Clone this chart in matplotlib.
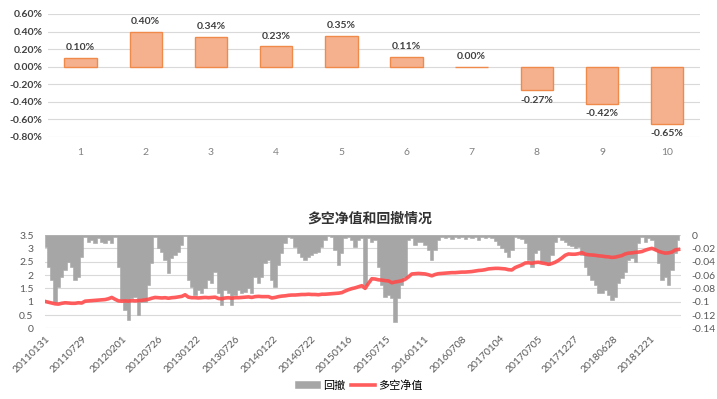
import matplotlib
matplotlib.use("Agg")
import matplotlib.pyplot as plt
import pandas as pd
from matplotlib.ticker import FuncFormatter

plt.rcParams['font.family'] = ['Lato', 'Noto Sans CJK SC', 'DejaVu Sans']

# ---- top chart: group returns ----
groups = ['1', '2', '3', '4', '5', '6', '7', '8', '9', '10']
group_ret = [0.10, 0.40, 0.34, 0.23, 0.35, 0.11, 0.00, -0.27, -0.42, -0.65]  # percent

# ---- bottom chart: long-short NAV and drawdown ----
start_date = '2011-02-01'
end_date = '2019-05-05'

drawdown = [
    -0.0175, -0.0475, -0.0675, -0.100, -0.0775, -0.0625, -0.0525, -0.040, -0.0475, -0.0675,
    -0.0625, -0.0325, -0.0025, -0.010, -0.0075, -0.0125, -0.005, -0.010, -0.0125, -0.0075,
    -0.0115, -0.0025, -0.0475, -0.0975, -0.1125, -0.1275, -0.095, -0.0925, -0.120, -0.100,
    -0.100, -0.075, -0.0425, -0.0025, -0.020, -0.025, -0.0375, -0.0575, -0.035, -0.030,
    -0.025, -0.015, -0.0015, -0.0675, -0.0775, -0.090, -0.0825, -0.0875, -0.080, -0.0675,
    -0.0725, -0.055, -0.0875, -0.105, -0.0825, -0.0875, -0.105, -0.090, -0.0825, -0.0875,
    -0.085, -0.080, -0.0875, -0.0625,
    -0.0725, -0.0625, -0.0425, -0.0375, -0.0675, -0.0775, -0.045, -0.0275, -0.0125, -0.0025,
    -0.005, -0.0175, -0.0275, -0.0325, -0.0375, -0.0325, -0.030, -0.0275, -0.025, -0.0175,
    -0.0075, -0.0015, -0.0025, -0.0225, -0.045, -0.0275, -0.005, -0.0035, -0.0075, -0.0175,
    -0.0075, -0.005, -0.075, -0.005, -0.010, -0.0075, -0.0475, -0.075, -0.0925, -0.090,
    -0.095, -0.130, -0.095, -0.075, -0.0625, -0.0075, -0.005, -0.015, -0.010, -0.010,
    -0.015, -0.0225, -0.0375, -0.0225, -0.0075, -0.0025, -0.005, -0.0035, -0.0065, -0.0035,
    -0.005, -0.0035, -0.0065, -0.0035,
    -0.005, -0.0035, -0.0075, -0.0025, -0.005, -0.0035, -0.005, -0.0085, -0.015, -0.020,
    -0.025, -0.0325, -0.0225, -0.0035, -0.005, -0.0065, -0.0125, -0.0375, -0.0475, -0.0275,
    -0.0225, -0.040, -0.0425, -0.045, -0.030, -0.010, -0.0035, -0.0075, -0.010, -0.015,
    -0.0165, -0.020, -0.0175, -0.030, -0.0475, -0.060, -0.0675, -0.075, -0.0875, -0.0875,
    -0.0825, -0.090, -0.0975, -0.0925, -0.0725, -0.065, -0.055, -0.0375, -0.035, -0.040,
    -0.0125, -0.0035, -0.010, -0.005, -0.0075, -0.0225, -0.0425, -0.0675, -0.0625, -0.075,
    -0.0525, -0.0275, -0.0075,
]

nav = [
    1.01, 0.98, 0.95, 0.92, 0.91, 0.94, 0.96, 0.95, 0.94, 0.94,
    0.96, 0.95, 1.02, 1.03, 1.04, 1.05, 1.06, 1.07, 1.08, 1.11,
    1.16, 1.09, 1.03, 1.02, 1.03, 1.02, 1.04, 1.03, 1.04, 1.05,
    1.07, 1.09, 1.13, 1.16, 1.15, 1.14, 1.15, 1.13, 1.15, 1.16,
    1.18, 1.20, 1.26, 1.17, 1.15, 1.15, 1.14, 1.15, 1.16, 1.15,
    1.16, 1.17, 1.12, 1.11, 1.14, 1.15, 1.13, 1.15, 1.15, 1.16,
    1.17, 1.18, 1.16, 1.19,
    1.20, 1.19, 1.19, 1.19, 1.14, 1.16, 1.19, 1.21, 1.22, 1.24,
    1.25, 1.25, 1.26, 1.27, 1.27, 1.28, 1.27, 1.27, 1.26, 1.28,
    1.28, 1.29, 1.30, 1.31, 1.32, 1.34, 1.40, 1.45, 1.49, 1.52,
    1.56, 1.60, 1.50, 1.69, 1.86, 1.85, 1.82, 1.81, 1.79, 1.78,
    1.71, 1.74, 1.76, 1.79, 1.84, 1.93, 2.04, 2.05, 2.06, 2.05,
    2.04, 2.01, 1.97, 2.02, 2.05, 2.06, 2.07, 2.08, 2.09, 2.09,
    2.10, 2.11, 2.11, 2.12,
    2.13, 2.15, 2.17, 2.18, 2.20, 2.23, 2.24, 2.25, 2.25, 2.24,
    2.23, 2.20, 2.19, 2.28, 2.33, 2.38, 2.45, 2.46, 2.44, 2.47,
    2.48, 2.45, 2.43, 2.40, 2.43, 2.48, 2.55, 2.64, 2.74, 2.79,
    2.78, 2.78, 2.80, 2.84, 2.78, 2.76, 2.75, 2.74, 2.72, 2.71,
    2.69, 2.68, 2.66, 2.67, 2.70, 2.73, 2.79, 2.82, 2.83, 2.85,
    2.86, 2.88, 2.93, 2.97, 3.00, 2.95, 2.89, 2.85, 2.82, 2.83,
    2.86, 2.94, 2.96,
]

date_labels = ['20110131', '20110729', '20120201', '20120726', '20130122', '20130726',
               '20140122', '20140722', '20150116', '20150715', '20160111', '20160708',
               '20170104', '20170705', '20171227', '20180628', '20181221']

dates = pd.date_range(start_date, end_date, periods=len(nav))

fig = plt.figure(figsize=(7.17, 3.99), dpi=100)

grid_c = '#D9D9D9'
label_c = '#595959'

# top bar chart
ax1 = fig.add_axes([0.067, 0.657, 0.909, 0.308])
xpos = range(len(groups))
ax1.bar(xpos, group_ret, width=0.5, color='#F5B18D', edgecolor='#F08A4B', linewidth=1, zorder=3)
for x, v in zip(xpos, group_ret):
    if v >= 0:
        ax1.annotate('%.2f%%' % v, (x, v), xytext=(0, 4), textcoords='offset points',
                     ha='center', va='bottom', fontsize=7.5, fontweight='bold', color='#404040')
    else:
        ax1.annotate('%.2f%%' % v, (x, v), xytext=(0, -4), textcoords='offset points',
                     ha='center', va='top', fontsize=7.5, fontweight='bold', color='#404040')
ax1.set_ylim(-0.8, 0.6)
ax1.set_yticks([0.6, 0.4, 0.2, 0.0, -0.2, -0.4, -0.6, -0.8])
ax1.yaxis.set_major_formatter(FuncFormatter(lambda v, p: '%.2f%%' % v))
ax1.set_xlim(-0.5, len(groups) - 0.5)
ax1.set_xticks(list(xpos))
ax1.set_xticklabels(groups)
ax1.grid(axis='y', color=grid_c, linewidth=0.8, zorder=0)
for s in ax1.spines.values():
    s.set_visible(False)
ax1.tick_params(axis='both', length=0, labelsize=7.5)
ax1.tick_params(axis='y', labelcolor='#404040', pad=4)
ax1.tick_params(axis='x', labelcolor='#808080', pad=8)
for t in ax1.get_yticklabels():
    t.set_fontweight('bold')

# bottom chart: drawdown (right axis) + NAV (left axis)
ax = fig.add_axes([0.0623, 0.177, 0.887, 0.234])
ax.fill_between(dates, drawdown, 0, step='mid', color='#A6A6A6', edgecolor='#A6A6A6',
                linewidth=0.4, zorder=2, label='回撤')
ax.set_ylim(-0.14, 0)
ax.grid(axis='y', color=grid_c, linewidth=0.8, zorder=0)
ax.set_axisbelow(True)

ax2 = ax.twinx()
ax2.plot(dates, nav, color='#FF4B4B', linewidth=2.6, alpha=0.9, label='多空净值')
ax2.set_ylim(0, 3.5)
ax2.set_yticks([0, 0.5, 1, 1.5, 2, 2.5, 3, 3.5])
ax2.set_yticklabels(['0', '0.5', '1', '1.5', '2', '2.5', '3', '3.5'])
ax2.tick_params(axis='y', left=True, right=False, labelleft=True, labelright=False)

ax.set_yticks([0, -0.02, -0.04, -0.06, -0.08, -0.1, -0.12, -0.14])
ax.set_yticklabels(['0', '-0.02', '-0.04', '-0.06', '-0.08', '-0.1', '-0.12', '-0.14'])
ax.tick_params(axis='y', left=False, right=True, labelleft=False, labelright=True)

ticks = pd.to_datetime(date_labels, format='%Y%m%d')
ax.set_xlim(pd.Timestamp('2011-01-30'), pd.Timestamp('2019-05-15'))
ax.set_xticks(ticks)
ax.set_xticklabels(date_labels, rotation=45, ha='right', rotation_mode='anchor')
for a in (ax, ax2):
    for s in a.spines.values():
        s.set_visible(False)
    a.tick_params(axis='both', length=0, labelsize=7.5, labelcolor=label_c)
ax.tick_params(axis='x', pad=4)
ax.tick_params(axis='y', pad=8)
ax2.tick_params(axis='y', pad=8)

fig.text(370 / 717, 1 - 218 / 399, '多空净值和回撤情况', ha='center', va='center',
         fontsize=10, fontweight='bold', color='#333333')

h1, l1 = ax.get_legend_handles_labels()
h2, l2 = ax2.get_legend_handles_labels()
fig.legend(h1 + h2, l1 + l2, loc='center', bbox_to_anchor=(359 / 717, 1 - 385 / 399),
           ncol=2, frameon=False, fontsize=8, handlelength=2.2, handleheight=0.6,
           columnspacing=0.5, handletextpad=0.3)

fig.savefig('out.png', dpi=100)
